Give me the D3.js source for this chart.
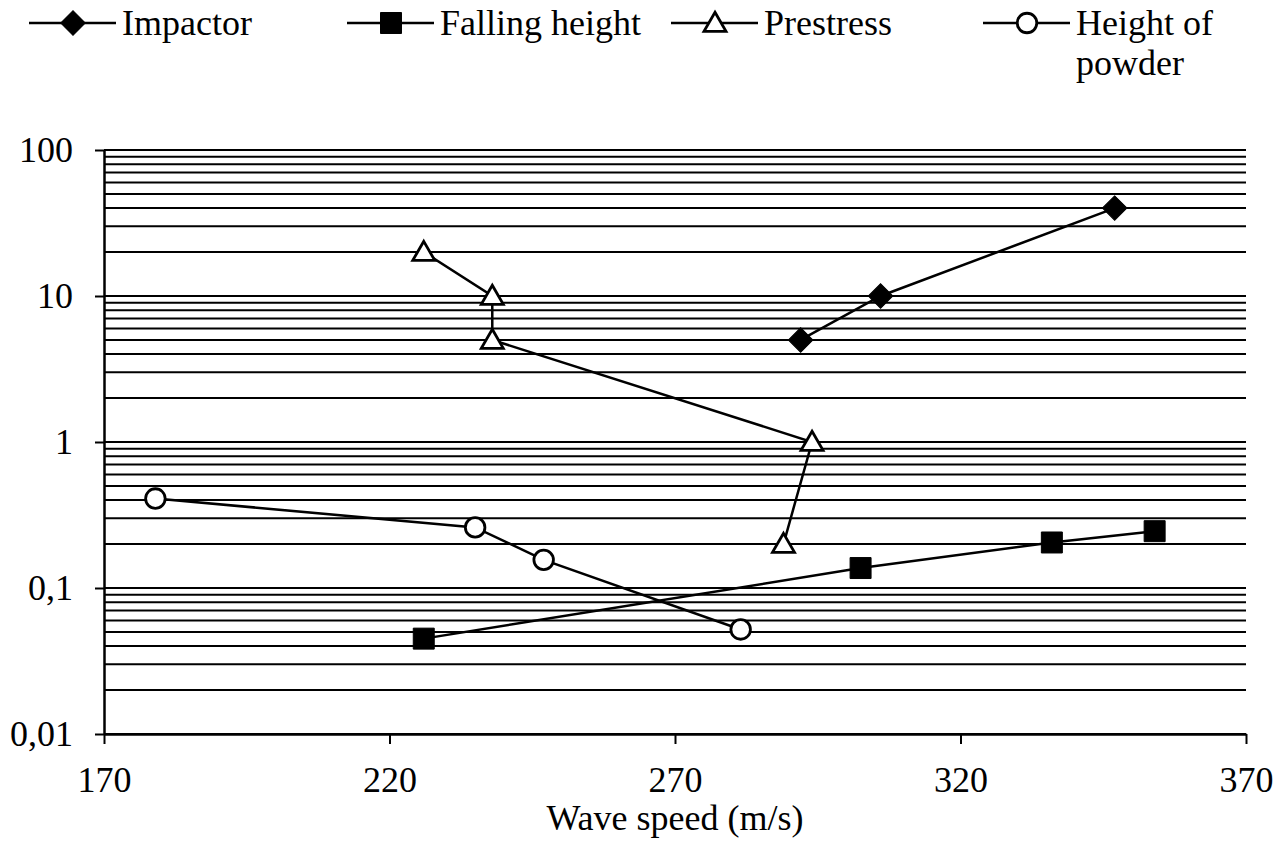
<!DOCTYPE html>
<html>
<head>
<meta charset="utf-8">
<script src="https://cdn.jsdelivr.net/npm/d3@7"></script>
<style>
  body { margin: 0; background: #fff; }
  svg { display: block; }
  text { font-family: "Liberation Serif", "Times New Roman", serif; fill: #000; }
</style>
</head>
<body>
<svg class="chart"></svg>
<script>
'use strict';

// series (x = wave speed m/s, y = log value)
var impactorX = [292, 306, 347];
var impactorY = [5, 10, 40];

var fallingX = [226, 302.5, 336, 354];
var fallingY = [0.045, 0.137, 0.205, 0.245];

var prestressX = [226, 238, 238, 294, 289];
var prestressY = [20, 10, 5, 1, 0.2];

var powderX = [179, 235, 247, 281.5];
var powderY = [0.41, 0.26, 0.156, 0.052];

var seriesNames = ['Impactor', 'Falling height', 'Prestress', 'Height of powder'];
var xTicks = [170, 220, 270, 320, 370];
var yTicks = [0.01, 0.1, 1, 10, 100];
var yTickLabels = ['0,01', '0,1', '1', '10', '100'];
var xTitle = 'Wave speed (m/s)';

var width = 1281;
var height = 863;

var svg = d3.select('.chart')
    .attr('width', width)
    .attr('height', height);

var x = d3.scaleLinear().domain([170, 370]).range([104, 1246]);
var y = d3.scaleLog().domain([0.01, 100]).range([734, 150]);

// horizontal grid, every 1..9 of each decade
svg.append('g')
    .selectAll('line')
    .data(y.ticks())
    .enter().append('line')
    .attr('x1', x(170))
    .attr('x2', x(370))
    .attr('y1', function (d) {return y(d);})
    .attr('y2', function (d) {return y(d);})
    .style('stroke', '#000')
    .style('stroke-width', 2);

// y axis
var yAxis = svg.append('g')
    .attr('transform', 'translate(' + x(170) + ',0)')
    .call(d3.axisLeft(y)
        .tickValues(yTicks)
        .tickSize(9)
        .tickSizeOuter(0)
        .tickPadding(22)
        .tickFormat(function (d, i) {return yTickLabels[i];}));

// x axis
var xAxis = svg.append('g')
    .attr('transform', 'translate(0,' + y(0.01) + ')')
    .call(d3.axisBottom(x)
        .tickValues(xTicks)
        .tickSize(10)
        .tickSizeOuter(0)
        .tickPadding(22)
        .tickFormat(d3.format('d')));

[yAxis, xAxis].forEach(function (a) {
    a.select('.domain').style('stroke', '#000').style('stroke-width', 2.5);
    a.selectAll('.tick line').style('stroke', '#000').style('stroke-width', 2);
    a.selectAll('.tick text')
        .style('font-family', '"Liberation Serif", serif')
        .style('font-size', '36px');
});

svg.append('text')
    .attr('x', (x(170) + x(370)) / 2)
    .attr('y', 830)
    .attr('text-anchor', 'middle')
    .style('font-size', '36px')
    .text(xTitle);

// series
var series = [
    {xs: impactorX, ys: impactorY, shape: 'diamond'},
    {xs: fallingX, ys: fallingY, shape: 'square'},
    {xs: prestressX, ys: prestressY, shape: 'triangle'},
    {xs: powderX, ys: powderY, shape: 'circle'}
];

var line = d3.line()
    .x(function (d) {return x(d[0]);})
    .y(function (d) {return y(d[1]);});

function symbolPath (shape) {
    if (shape === 'diamond') return d3.symbol(d3.symbolSquare, 300)();
    if (shape === 'square') return d3.symbol(d3.symbolSquare, 440)();
    if (shape === 'triangle') return d3.symbol(d3.symbolTriangle, 210)();
    return d3.symbol(d3.symbolCircle, 300)();
}

function drawMarker (g, shape, px, py) {
    var rot = shape === 'diamond' ? ' rotate(45)' : '';
    var dy = shape === 'triangle' ? 2 : 0;
    g.append('path')
        .attr('d', symbolPath(shape))
        .attr('transform', 'translate(' + px + ',' + (py + dy) + ')' + rot)
        .style('fill', (shape === 'triangle' || shape === 'circle') ? '#fff' : '#000')
        .style('stroke', '#000')
        .style('stroke-width', (shape === 'triangle' || shape === 'circle') ? 2.8 : 1);
}

series.forEach(function (s) {
    var pts = s.xs.map(function (v, i) {return [v, s.ys[i]];});
    var g = svg.append('g');
    g.append('path')
        .datum(pts)
        .attr('d', line)
        .style('fill', 'none')
        .style('stroke', '#000')
        .style('stroke-width', 2.5);
    pts.forEach(function (p) {
        drawMarker(g, s.shape, x(p[0]), y(p[1]));
    });
});

// legend
var legendX = [29, 347, 671, 983];
var legend = svg.append('g');
series.forEach(function (s, i) {
    var lx = legendX[i];
    var g = legend.append('g');
    g.append('line')
        .attr('x1', lx).attr('x2', lx + 87)
        .attr('y1', 23).attr('y2', 23)
        .style('stroke', '#000')
        .style('stroke-width', 2.5);
    drawMarker(g, s.shape, lx + 44, 23);
    var t = g.append('text')
        .attr('x', lx + 93)
        .attr('y', 35)
        .style('font-size', '36px');
    if (i === 3) {
        t.append('tspan').attr('x', lx + 93).attr('y', 35).text('Height of');
        t.append('tspan').attr('x', lx + 93).attr('y', 75).text('powder');
    } else {
        t.text(seriesNames[i]);
    }
});
</script>
</body>
</html>
